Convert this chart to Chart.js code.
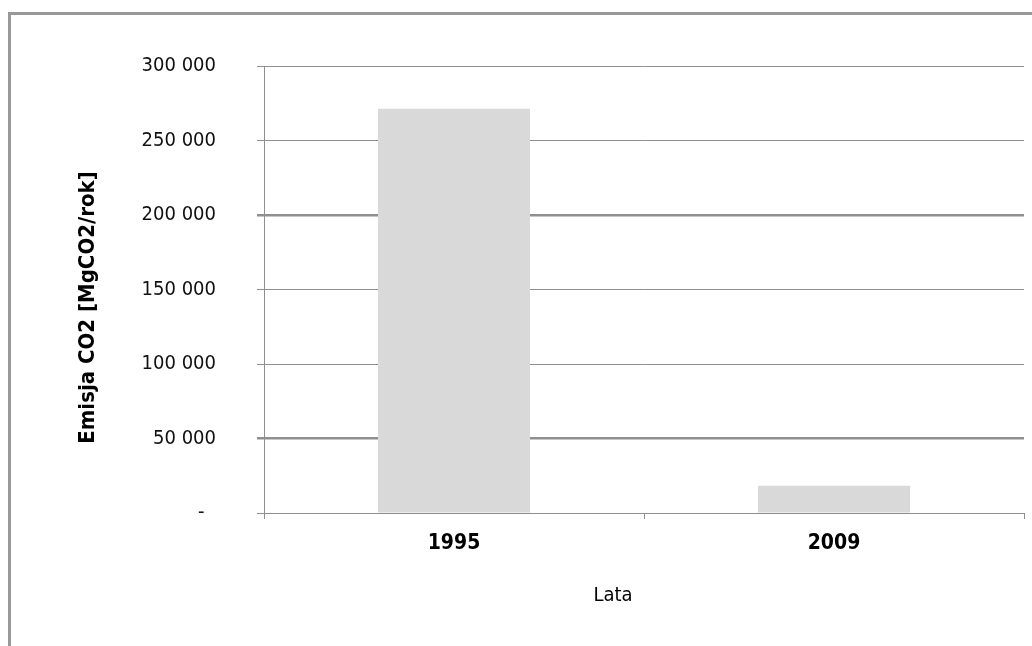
<!DOCTYPE html>
<html>
<head>
<meta charset="utf-8">
<script src="https://cdn.jsdelivr.net/npm/chart.js@4/dist/chart.umd.min.js"></script>
<style>
  html, body { margin: 0; padding: 0; background: #fff; }
  #wrap { position: relative; width: 1032px; height: 646px; overflow: hidden; }
  #frame { position: absolute; left: 8px; top: 12px; right: -10px; bottom: -10px;
           border-left: 3px solid #999; border-top: 3px solid #999; }
  #chart { position: absolute; left: 0; top: 0; }
</style>
</head>
<body>
<div id="wrap">
  <div id="frame"></div>
  <canvas id="chart" width="1032" height="646"></canvas>
</div>
<script>
const years = ['1995', '2009'];
const emissions = [271300, 18300];
const yMax = 300000;
const yStep = 50000;
const yTitle = 'Emisja CO2 [MgCO2/rok]';
const xTitle = 'Lata';

const FONT = '"DejaVu Sans Condensed", "DejaVu Sans", sans-serif';
const GRID = '#8f8f8f';

function spaced(v) {
  return String(v).replace(/\B(?=(\d{3})+(?!\d))/g, ' ');
}

// axis titles are drawn by hand so they can sit off-centre like the original sheet
const axisTitles = {
  id: 'axisTitles',
  afterDraw(chart) {
    const { ctx, chartArea } = chart;
    ctx.save();
    ctx.fillStyle = '#000';
    ctx.textAlign = 'center';
    ctx.textBaseline = 'middle';

    ctx.font = 'bold 22px ' + FONT;
    ctx.translate(chartArea.left - 176, (chartArea.top + chartArea.bottom) / 2 + 18);
    ctx.rotate(-Math.PI / 2);
    ctx.fillText(yTitle, 0, 0);
    ctx.setTransform(1, 0, 0, 1, 0, 0);

    ctx.font = '20px ' + FONT;
    ctx.fillText(xTitle, (chartArea.left + chartArea.right) / 2 - 31, chartArea.bottom + 83);
    ctx.restore();
  }
};

new Chart(document.getElementById('chart'), {
  type: 'bar',
  data: {
    labels: years,
    datasets: [{
      data: emissions,
      backgroundColor: '#d9d9d9',
      borderWidth: 0,
      barPercentage: 0.4,
      categoryPercentage: 1.0
    }]
  },
  options: {
    responsive: false,
    animation: false,
    layout: { padding: { top: 66, right: 8, bottom: 0, left: 0 } },
    plugins: {
      legend: { display: false },
      tooltip: { enabled: false }
    },
    scales: {
      x: {
        afterFit(scale) { scale.height = 133; },
        grid: { drawOnChartArea: false, drawTicks: true, tickLength: 6, color: GRID },
        border: { color: GRID, width: 1 },
        ticks: {
          color: '#000',
          padding: 12,
          font: { family: FONT, size: 21, weight: 'bold' }
        }
      },
      y: {
        min: 0,
        max: yMax,
        afterFit(scale) { scale.width = 264; },
        grid: {
          color: GRID,
          tickLength: 7,
          lineWidth: (c) => (c.tick && (c.tick.value === 200000 || c.tick.value === 50000)) ? 2.5 : 1
        },
        border: { color: GRID, width: 1 },
        ticks: {
          stepSize: yStep,
          color: '#111',
          padding: 41,
          font: { family: FONT, size: 20 },
          callback: (v) => v === 0 ? '-  ' : spaced(v)
        }
      }
    }
  },
  plugins: [axisTitles]
});
</script>
</body>
</html>
